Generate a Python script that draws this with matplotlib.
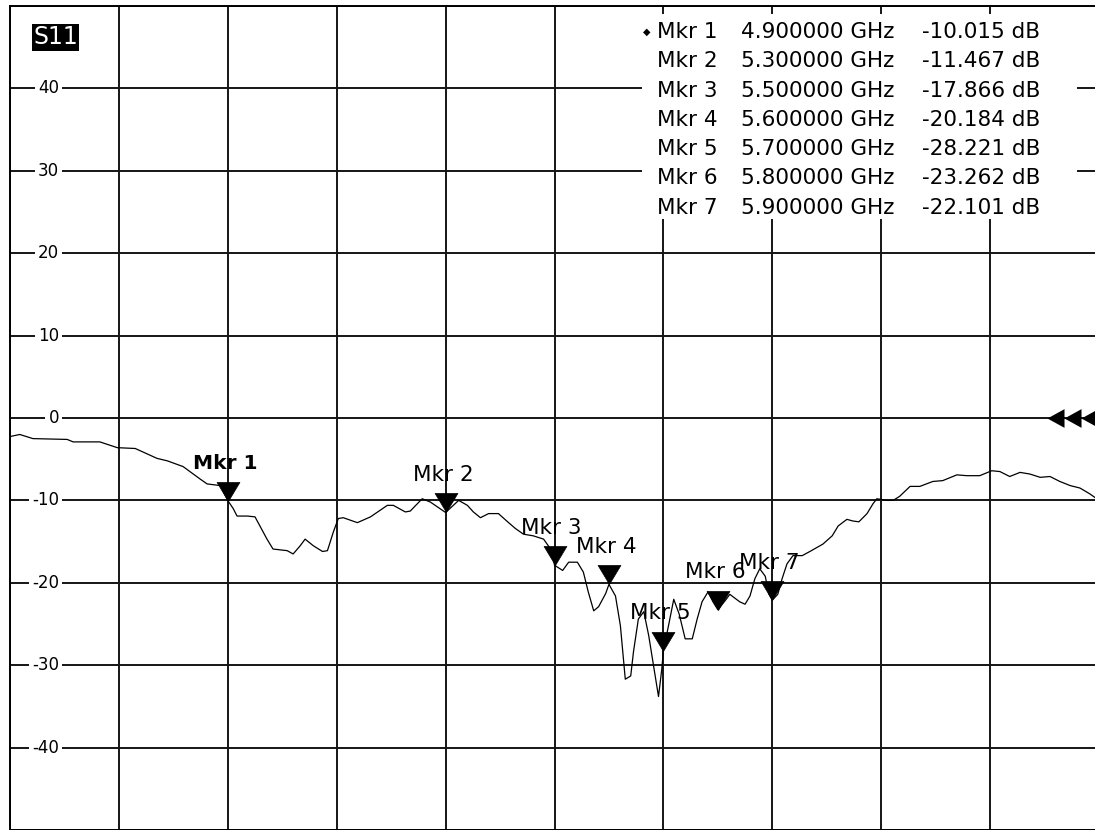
import numpy as np
from matplotlib import pyplot as plt
from matplotlib.path import Path
from matplotlib.patches import Rectangle

# S11 trace
freq_ghz = [4.500, 4.518, 4.542, 4.605, 4.616, 4.665, 4.697, 4.730, 4.770, 4.789,
            4.818, 4.849, 4.862, 4.886, 4.900, 4.910, 4.917, 4.936, 4.950, 4.972,
            4.983, 5.009, 5.020, 5.033, 5.042, 5.057, 5.074, 5.083, 5.094, 5.103,
            5.112, 5.138, 5.162, 5.193, 5.204, 5.226, 5.235, 5.257, 5.272, 5.300,
            5.324, 5.340, 5.351, 5.364, 5.379, 5.397, 5.414, 5.428, 5.443, 5.461,
            5.480, 5.496, 5.500, 5.515, 5.526, 5.542, 5.553, 5.562, 5.572, 5.581,
            5.594, 5.600, 5.612, 5.621, 5.630, 5.640, 5.645, 5.654, 5.664, 5.673,
            5.682, 5.691, 5.697, 5.700, 5.710, 5.719, 5.729, 5.740, 5.753, 5.762,
            5.771, 5.782, 5.791, 5.800, 5.813, 5.822, 5.840, 5.850, 5.859, 5.868,
            5.877, 5.887, 5.894, 5.900, 5.910, 5.918, 5.927, 5.938, 5.955, 5.969,
            5.993, 6.010, 6.021, 6.037, 6.048, 6.059, 6.074, 6.085, 6.092, 6.111,
            6.122, 6.134, 6.153, 6.171, 6.195, 6.213, 6.239, 6.257, 6.281, 6.303,
            6.318, 6.336, 6.355, 6.373, 6.392, 6.410, 6.428, 6.447, 6.465, 6.483,
            6.498]
s11_db = [-2.25, -2.0, -2.5, -2.6, -2.9, -2.9, -3.6, -3.7, -4.9, -5.2,
          -5.9, -7.4, -8.0, -8.2, -10.015, -11.0, -11.9, -11.9, -12.0, -14.7,
          -15.9, -16.1, -16.5, -15.5, -14.7, -15.5, -16.2, -16.1, -13.8, -12.2,
          -12.1, -12.7, -12.0, -10.6, -10.6, -11.4, -11.3, -9.8, -10.2, -11.467,
          -10.0, -10.6, -11.4, -12.1, -11.6, -11.6, -12.6, -13.4, -14.1, -14.3,
          -14.7, -16.2, -17.866, -18.5, -17.5, -17.5, -18.7, -21.1, -23.4, -22.9,
          -21.3, -20.184, -21.6, -25.2, -31.7, -31.3, -28.4, -24.4, -23.5, -26.4,
          -30.1, -33.8, -30.5, -28.221, -25.0, -22.0, -23.8, -26.8, -26.8, -24.4,
          -22.3, -21.1, -22.3, -23.262, -22.2, -21.4, -22.3, -22.6, -21.6, -19.5,
          -18.3, -19.2, -21.4, -22.101, -21.4, -19.5, -17.7, -16.7, -16.7, -16.2,
          -15.3, -14.3, -13.1, -12.3, -12.5, -12.6, -11.6, -10.4, -9.8, -10.0,
          -10.0, -9.5, -8.3, -8.3, -7.7, -7.6, -6.9, -7.0, -7.0, -6.4,
          -6.5, -7.1, -6.6, -6.8, -7.2, -7.1, -7.7, -8.2, -8.5, -9.2,
          -9.9]

mkr_names = ['Mkr 1', 'Mkr 2', 'Mkr 3', 'Mkr 4', 'Mkr 5', 'Mkr 6', 'Mkr 7']
mkr_freq = [4.9, 5.3, 5.5, 5.6, 5.7, 5.8, 5.9]
mkr_db = [-10.015, -11.467, -17.866, -20.184, -28.221, -23.262, -22.101]

y_labels = [40, 30, 20, 10, 0, -10, -20, -30, -40]


def px(x, y):
    # screen pixel -> figure fraction
    return x / 1095, 1 - y / 830


fig = plt.figure(figsize=(10.95, 8.3), dpi=100)
ax = fig.add_axes([10 / 1095, 0.0, 1089 / 1095, 824 / 830])

ax.set_xlim(4.5, 6.5)
ax.set_ylim(-50, 50)
ax.set_xticks(np.linspace(4.5, 6.5, 11))
ax.set_yticks(np.arange(-50, 51, 10))
ax.tick_params(length=0, labelleft=False, labelbottom=False)
ax.grid(True, color='#151515', lw=1.4)
ax.set_axisbelow(True)
for s in ax.spines.values():
    s.set_linewidth(1.4)
    s.set_color('black')

ax.plot(freq_ghz, s11_db, color='black', lw=0.9, zorder=2)

# marker triangles with the tip on the trace
tri_down = Path([(0, 0), (-0.6, 1), (0.6, 1), (0, 0)],
                [Path.MOVETO, Path.LINETO, Path.LINETO, Path.CLOSEPOLY])
ax.plot(mkr_freq, mkr_db, ls='none', marker=tri_down, ms=27.4,
        color='black', mew=0.5, zorder=4)

for i, (name, f, v) in enumerate(zip(mkr_names, mkr_freq, mkr_db)):
    ax.annotate(name, (f, v), xytext=(-2, 27), textcoords='offset points',
                ha='center', va='center', zorder=5,
                fontsize=14.5 if i == 0 else 15.5,
                fontweight='bold' if i == 0 else 'normal')

# reference level arrows
tri_left = Path([(0, 0), (1, 0.55), (1, -0.55), (0, 0)],
                [Path.MOVETO, Path.LINETO, Path.LINETO, Path.CLOSEPOLY])
ax.plot([0.9522, 0.9679, 0.9835], [0, 0, 0], transform=ax.get_yaxis_transform(),
        ls='none', marker=tri_left, ms=24.5, color='black', mew=0, clip_on=False, zorder=4)

# scale labels inside the graticule
for v in y_labels:
    ax.text(0.045, v, str(v), transform=ax.get_yaxis_transform(),
            ha='right', va='center', fontsize=12, zorder=3,
            bbox=dict(boxstyle='square,pad=0.2', fc='white', ec='none'))

# marker table
ax.add_patch(Rectangle(px(642, 219), (1077 - 642) / 1095, (219 - 14) / 830,
                       transform=fig.transFigure, fc='white', ec='none', zorder=1))
for i, (name, f, v) in enumerate(zip(mkr_names, mkr_freq, mkr_db)):
    row_y = 32 + i * 29.3
    fig.text(*px(687, row_y), name, ha='center', va='center', fontsize=15.5)
    fig.text(*px(818, row_y), f'{f:.6f} GHz', ha='center', va='center', fontsize=15.5)
    fig.text(*px(981, row_y), f'{v:.3f} dB', ha='center', va='center', fontsize=15.5)
fig.text(*px(647, 32), '\u25c6', ha='center', va='center', fontsize=7)

fig.text(*px(55.5, 37.5), 'S11', color='white', fontsize=17, ha='center', va='center',
         bbox=dict(boxstyle='square,pad=0.05', fc='black', ec='none'))

fig.savefig('out.png', dpi=100)
